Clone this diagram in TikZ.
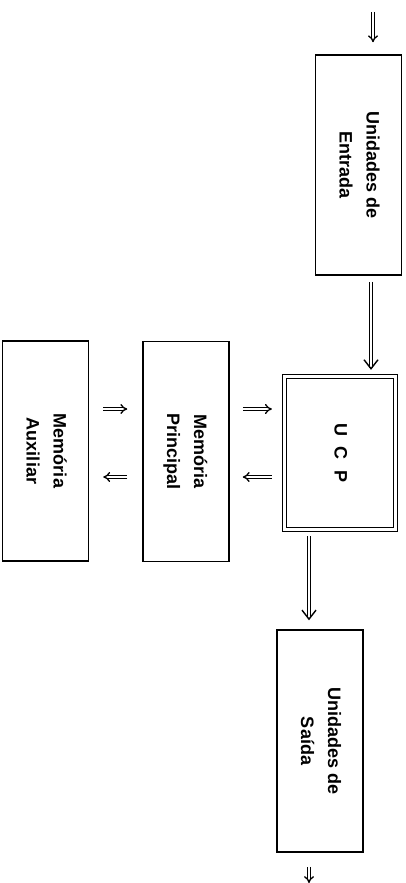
\documentclass[tikz,border=0pt]{standalone}
\usepackage{fontspec}
\setmainfont{Liberation Sans}
\usepackage{tikz}
\usetikzlibrary{arrows.meta}

\newcommand{\vlabel}[1]{\rotatebox{-90}{\begin{tabular}{@{}c@{}}#1\end{tabular}}}

\begin{document}
\begin{tikzpicture}[x=1pt,y=-1pt,
    unit/.style={draw, line width=1.5pt, minimum width=86pt, minimum height=220pt, inner sep=0pt,
      font=\fontsize{18}{27}\selectfont\bfseries},
    feed/.style={double, double distance=2.5pt, line width=1.1pt, -{Straight Barb[length=9pt,width=14pt,line width=1.4pt]}},
    dbl/.style={double, double distance=2pt, line width=1.3pt, -{Implies}}]
    \useasboundingbox (0,0) rectangle (406,883);
    \node[unit] (ent) at (358.5,165) {\vlabel{Unidades de\\Entrada}};
    \node[unit, double, line width=1.3pt, double distance=3pt, minimum width=111pt, minimum height=153pt] (ucp) at (340,453)
      {\vlabel{\spaceskip=0.6em U C P}};
    \node[unit] (mp) at (186,451.5) {\vlabel{Memória\\Principal}};
    \node[unit] (ma) at (45.5,451) {\vlabel{Memória\\Auxiliar}};
    \node[unit, minimum height=222pt] (sai) at (320,741) {\vlabel{Unidades de\\Saída}};
    \coordinate (in) at (373,12);
    \coordinate (out) at (309,883);
    \coordinate (hi) at (0,409);
    \coordinate (lo) at (0,477);
    % entrada / saida
    \draw[dbl, shorten >=12pt] (in) -- (in |- ent.north);
    \draw[feed, shorten <=6pt, shorten >=6pt] ([xshift=12.5pt]ent.south) -- ([xshift=12.5pt]ent.south |- ucp.north);
    \draw[feed, shorten <=6pt, shorten >=9pt] (out |- ucp.south) -- (out |- sai.north);
    \draw[dbl, shorten <=14pt] (out |- sai.south) -- (out);
    % memorias
    \draw[dbl, shorten <=13pt, shorten >=12pt] (mp.east |- hi) -- (ucp.west |- hi);
    \draw[dbl, shorten <=12pt, shorten >=13pt] (ucp.west |- lo) -- (mp.east |- lo);
    \draw[dbl, shorten <=14pt, shorten >=15pt] (ma.east |- hi) -- (mp.west |- hi);
    \draw[dbl, shorten <=15pt, shorten >=14pt] (mp.west |- lo) -- (ma.east |- lo);
\end{tikzpicture}
\end{document}
